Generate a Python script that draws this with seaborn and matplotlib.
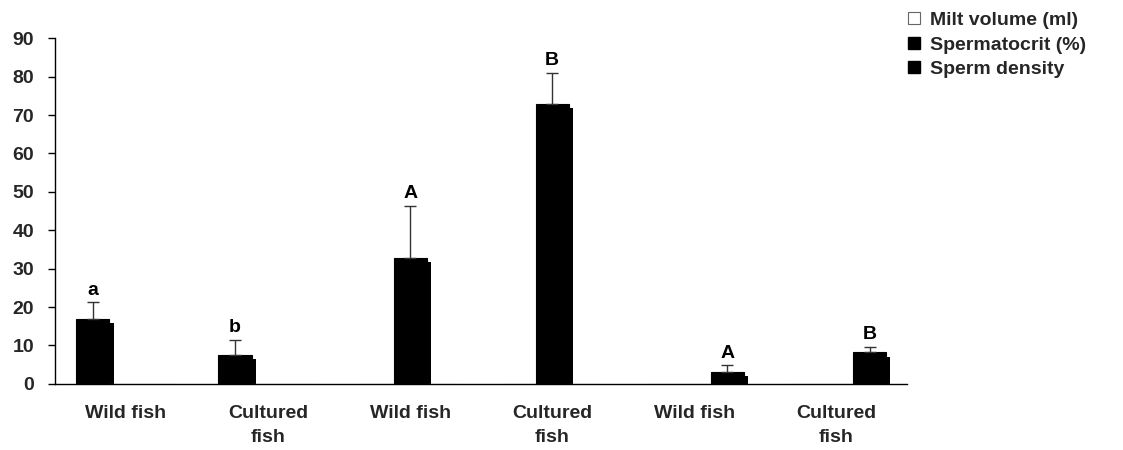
import matplotlib
matplotlib.use("Agg")
import matplotlib.pyplot as plt
import matplotlib.patheffects as pe
from matplotlib.patches import Patch
import numpy as np
import pandas as pd
import seaborn as sns

# ---- data ----
categories = ["Wild fish", "Cultured\nfish", "Wild fish", "Cultured\nfish", "Wild fish", "Cultured\nfish"]
series = ["Milt volume (ml)", "Spermatocrit (%)", "Sperm density"]
milt_volume = [17.0, 7.6, 0, 0, 0, 0]
spermatocrit = [0, 0, 32.8, 72.8, 0, 0]
sperm_density = [0, 0, 0, 0, 3.2, 8.2]
milt_err = [4.2, 3.8, 0, 0, 0, 0]
spermatocrit_err = [0, 0, 13.5, 8.1, 0, 0]
density_err = [0, 0, 0, 0, 1.6, 1.5]
letters = ["a", "b", "A", "B", "A", "B"]
y_ticks = [0, 10, 20, 30, 40, 50, 60, 70, 80, 90]

values = [milt_volume, spermatocrit, sperm_density]
errors = [milt_err, spermatocrit_err, density_err]

rows = []
for s, vals in zip(series, values):
    for i, v in enumerate(vals):
        rows.append({"group": i, "series": s, "value": v})
df = pd.DataFrame(rows)

sns.set_style("white")
plt.rcParams["font.family"] = ["Liberation Sans", "DejaVu Sans"]
plt.rcParams["font.weight"] = "bold"

FS = 14

fig = plt.figure(figsize=(11.23, 4.5), dpi=100)
ax = fig.add_axes([0.049, 0.147, 0.759, 0.768])

sns.barplot(data=df, x="group", y="value", hue="series", order=list(range(6)),
            hue_order=series, palette=["black"] * 3, width=0.7, saturation=1,
            edgecolor="black", linewidth=0.8, legend=False, ax=ax, zorder=2)

bar_containers = list(ax.containers)
shadow = [pe.SimplePatchShadow(offset=(3, -3), shadow_rgbFace="black", alpha=1.0), pe.Normal()]
for si, cont in enumerate(bar_containers):
    for j, bar in enumerate(cont):
        v = values[si][j]
        if v == 0:
            bar.set_facecolor("white")
            bar.set_edgecolor("#b0b0b0")
            continue
        bar.set_path_effects(shadow)
        xc = bar.get_x() + bar.get_width() / 2
        e = errors[si][j]
        ax.errorbar([xc], [v], yerr=[[0], [e]], fmt="none", ecolor="#333333",
                    elinewidth=1.0, capsize=4.5, capthick=1.0, zorder=3)
        ax.text(xc, v + e + 1.0, letters[j], ha="center", va="bottom",
                fontsize=FS, fontweight="bold", color="black")

ax.set_xlim(-0.5, 5.5)
ax.set_ylim(0, 90)
ax.set_yticks(y_ticks)
ax.set_yticklabels([str(t) for t in y_ticks], fontsize=FS, fontweight="bold")
ax.set_xticks(list(range(6)))
ax.set_xticklabels(categories, fontsize=FS, fontweight="bold", linespacing=1.6)
ax.set_xticks(np.arange(-0.5, 6.0, 1.0), minor=True)
ax.tick_params(axis="x", which="major", length=0, pad=15)
ax.tick_params(axis="x", which="minor", length=6, width=1, color="black", direction="out")
ax.tick_params(axis="y", length=5, width=1, color="black", direction="out", pad=10, left=True)
ax.set_xlabel("")
ax.set_ylabel("")
for side in ["top", "right"]:
    ax.spines[side].set_visible(False)
for side in ["left", "bottom"]:
    ax.spines[side].set_color("black")
    ax.spines[side].set_linewidth(1.0)

handles = [Patch(facecolor="white", edgecolor="#666666", linewidth=0.8),
           Patch(facecolor="black", edgecolor="black"),
           Patch(facecolor="black", edgecolor="black")]
fig.legend(handles, series, loc="upper left", bbox_to_anchor=(0.793, 1.012),
           frameon=False, handlelength=0.6, handleheight=0.6,
           handletextpad=0.55, labelspacing=0.38, prop={"weight": "bold", "size": FS})

fig.savefig("out.png", dpi=100)
